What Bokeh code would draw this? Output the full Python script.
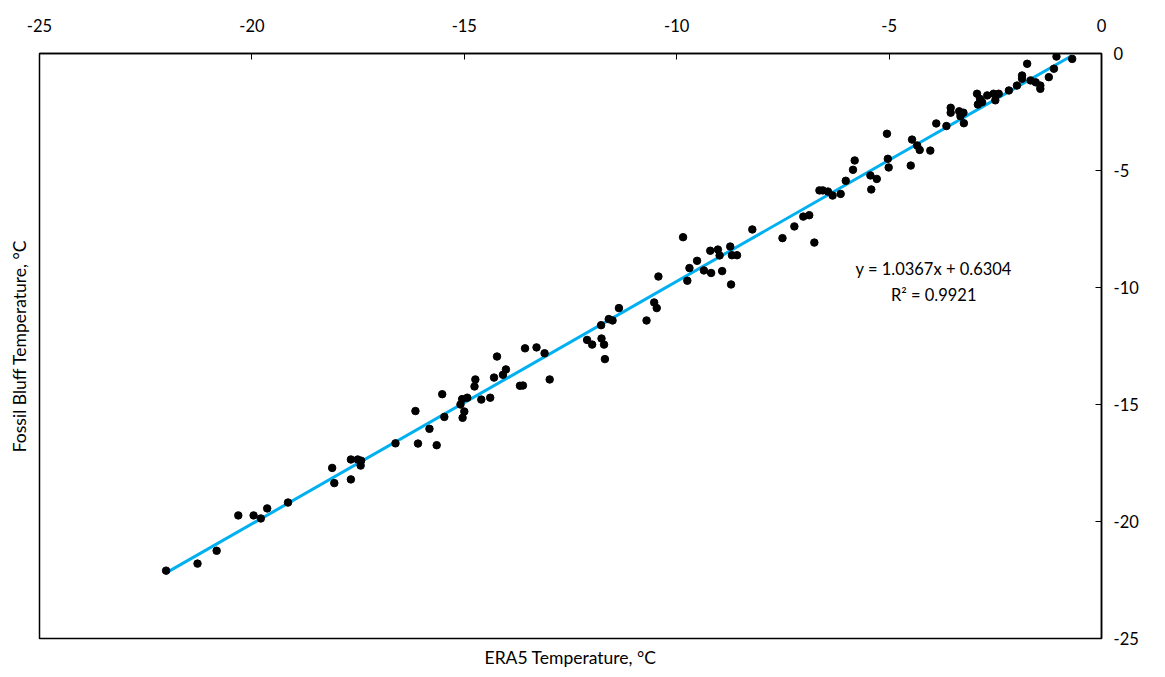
from bokeh.plotting import figure
from bokeh.models import Range1d, LinearAxis, FixedTicker, Label, PrintfTickFormatter
from bokeh.embed import file_html
from bokeh.resources import INLINE

# ERA5 temperature (x) and Fossil Bluff temperature (y), °C
era5 = [-22.02, -21.28, -20.83, -20.32, -19.96, -19.79, -19.64, -19.15, -18.11, -18.06,
        -17.67, -17.51, -17.43, -17.44, -17.67, -16.62, -16.09, -15.65, -16.15, -15.82,
        -15.52, -15.47, -15.05, -14.93, -15.09, -15.00, -15.04, -14.74, -14.76, -14.60,
        -14.39, -14.30, -14.23, -14.09, -14.02, -13.69, -13.62, -13.57, -13.30, -13.11,
        -12.99, -12.11, -11.99, -11.77, -11.71, -11.69, -11.78, -11.60, -11.51, -11.36,
        -10.71, -10.53, -10.47, -10.43, -9.85, -9.75, -9.70, -9.52, -9.36, -9.21,
        -9.19, -9.03, -8.99, -8.93, -8.74, -8.72, -8.70, -8.58, -8.22, -7.51,
        -7.23, -7.02, -6.88, -6.76, -6.64, -6.56, -6.44, -6.33, -6.14, -6.02,
        -5.85, -5.81, -5.44, -5.42, -5.29, -5.05, -5.03, -5.01, -4.49, -4.46,
        -4.34, -4.28, -4.03, -3.89, -3.65, -3.55, -3.55, -3.35, -3.25, -3.24,
        -3.32, -2.91, -2.81, -2.93, -2.86, -2.69, -2.54, -2.50, -2.42, -2.18,
        -1.99, -1.87, -1.87, -1.75, -1.67, -1.55, -1.44, -1.44, -1.24, -1.12,
        -1.06, -0.69]
fossil = [-22.10, -21.80, -21.25, -19.74, -19.74, -19.87, -19.44, -19.19, -17.71, -18.36,
          -17.35, -17.35, -17.40, -17.61, -18.20, -16.66, -16.67, -16.74, -15.28, -16.04,
          -14.56, -15.53, -14.77, -14.71, -15.00, -15.30, -15.57, -13.93, -14.23, -14.79,
          -14.71, -13.85, -12.95, -13.73, -13.50, -14.20, -14.19, -12.60, -12.56, -12.81,
          -13.93, -12.24, -12.44, -12.18, -12.44, -13.06, -11.61, -11.35, -11.41, -10.88,
          -11.41, -10.64, -10.88, -9.53, -7.85, -9.71, -9.17, -8.86, -9.27, -8.43,
          -9.38, -8.38, -8.63, -9.30, -8.25, -9.87, -8.62, -8.62, -7.52, -7.89,
          -7.39, -6.97, -6.91, -8.08, -5.85, -5.85, -5.90, -6.07, -6.00, -5.44,
          -4.97, -4.57, -5.21, -5.81, -5.36, -3.43, -4.50, -4.87, -4.79, -3.68,
          -3.93, -4.12, -4.15, -2.99, -3.10, -2.32, -2.53, -2.47, -2.53, -2.98,
          -2.68, -2.18, -2.08, -1.72, -1.94, -1.79, -1.72, -2.00, -1.72, -1.58,
          -1.37, -0.94, -1.08, -0.44, -1.15, -1.23, -1.37, -1.51, -1.01, -0.65,
          -0.13, -0.23]

slope = 1.0367
intercept = 0.6304
r2 = 0.9921
x_ticks = [-25, -20, -15, -10, -5, 0]
y_ticks = [0, -5, -10, -15, -20, -25]

FONT = "Lato"

p = figure(width=1165, height=677, output_backend="svg", toolbar_location=None,
           x_range=Range1d(-25, 0), y_range=Range1d(-25, 0),
           x_axis_location="above", y_axis_location="right",
           min_border_left=39, min_border_right=64, min_border_top=53, min_border_bottom=39,
           frame_width=1062, frame_height=585)
p.xgrid.visible = False
p.ygrid.visible = False
p.outline_line_color = "black"
p.outline_line_width = 1.5
p.background_fill_color = "white"
p.border_fill_color = "white"

for ax, ticks in ((p.xaxis[0], x_ticks), (p.yaxis[0], y_ticks)):
    ax.ticker = FixedTicker(ticks=ticks)
    ax.formatter = PrintfTickFormatter(format="%d")
    ax.minor_tick_line_color = None
    ax.major_tick_in = 6
    ax.major_tick_out = 0
    ax.major_tick_line_color = "black"
    ax.axis_line_color = "black"
    ax.axis_line_width = 1.5
    ax.major_label_text_font = FONT
    ax.major_label_text_font_size = "16.5px"
    ax.major_label_text_color = "black"
p.xaxis[0].major_label_standoff = 22
p.yaxis[0].major_label_standoff = 12

bottom = LinearAxis(ticker=FixedTicker(ticks=[]), axis_label="ERA5 Temperature, °C",
                    axis_line_color=None, major_tick_line_color=None, minor_tick_line_color=None,
                    axis_label_text_font=FONT, axis_label_text_font_size="17.5px",
                    axis_label_text_color="black",
                    axis_label_text_font_style="normal", axis_label_standoff=8,
                    major_label_text_font_size="0px")
p.add_layout(bottom, "below")
left = LinearAxis(ticker=FixedTicker(ticks=[]), axis_label="Fossil Bluff Temperature, °C",
                  axis_line_color=None, major_tick_line_color=None, minor_tick_line_color=None,
                  axis_label_text_font=FONT, axis_label_text_font_size="17.5px",
                  axis_label_text_color="black",
                  axis_label_text_font_style="normal", axis_label_standoff=10,
                  major_label_text_font_size="0px")
p.add_layout(left, "left")

x0, x1 = min(era5), max(era5)
p.line([x0, x1], [slope * x0 + intercept, slope * x1 + intercept],
       line_color="#00B0F0", line_width=3)
p.scatter(era5, fossil, size=7.5, color="black")

eq1 = Label(x=-3.95, y=-9.19, text=f"y = {slope}x + {intercept}", text_align="center",
            text_baseline="middle", text_font=FONT, text_font_size="16.5px", text_color="black")
eq2 = Label(x=-3.95, y=-10.3, text=f"R² = {r2}", text_align="center",
            text_baseline="middle", text_font=FONT, text_font_size="16.5px", text_color="black")
p.add_layout(eq1)
p.add_layout(eq2)

open("out.html", "w").write(file_html(p, INLINE))
